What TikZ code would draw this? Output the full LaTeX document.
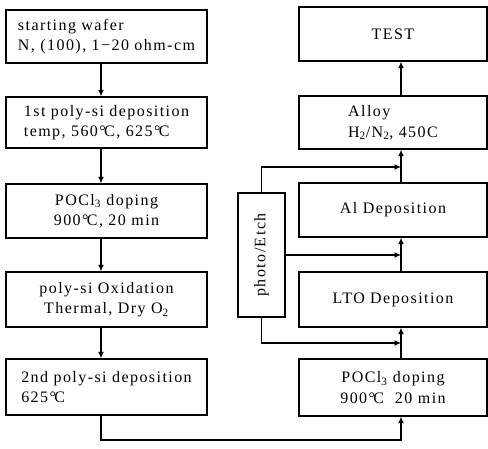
\documentclass[tikz,border=0pt]{standalone}
\usepackage{fontspec}
\setmainfont{Liberation Serif}[LetterSpace=9]
\usetikzlibrary{arrows.meta}
\newcommand{\dC}{\textdegree\kern-0.1em C}
\tikzset{
  txt/.style={font=\fontsize{16}{20.5}\selectfont},
  box/.style={draw, line width=1.3pt, inner sep=0pt, txt},
  lbox/.style={box, minimum width=201pt},
  rbox/.style={box, minimum width=188pt},
  conn/.style={line width=1.3pt},
  arr/.style={conn, -{Latex[length=6.5pt,width=6pt]}},
}
\begin{document}
\begin{tikzpicture}[x=1pt,y=-1pt]
\useasboundingbox (0,0) rectangle (488,448);
% left column
\node[lbox, minimum height=53pt, align=left] (b1) at (106.5,36.5) {starting wafer\\N, (100), 1−20 ohm-cm};
\node[lbox, minimum height=51pt, align=left] (b2) at (106.5,122.5) {1st poly-si deposition\\temp, 560\dC, 625\dC};
\node[lbox, minimum height=54pt, align=center] (b3) at (106.5,211) {POCl\textsubscript{3} doping\\900\dC, 20 min};
\node[lbox, minimum height=55pt, align=center] (b4) at (106.5,299.5) {poly-si Oxidation\\Thermal, Dry O\textsubscript{2}};
\node[lbox, minimum height=56pt, align=left] (b5) at (106.5,387) {2nd poly-si deposition\\625\dC};
% right column
\node[rbox, minimum height=54pt] (r1) at (393,34) {TEST};
\node[rbox, minimum height=53pt, align=left] (r2) at (393,122.5) {Alloy\\H\textsubscript{2}/N\textsubscript{2}, 450C};
\node[rbox, minimum height=54pt] (r3) at (393,210) {Al Deposition};
\node[rbox, minimum height=55pt] (r4) at (393,299.5) {LTO Deposition};
\node[rbox, minimum height=57pt, align=center] (r5) at (393,387.5) {POCl\textsubscript{3} doping\\900\dC\ \ 20 min};
% photo/Etch
\node[box, minimum width=47pt, minimum height=124pt,
  label={[rotate=90, txt]center:photo/Etch}] (pe) at (261.5,255) {};
% guide coordinates
\coordinate (xl) at (101,0);
\coordinate (xr) at (401,0);
\coordinate (j1) at (401,167);
\coordinate (j2) at (401,255);
\coordinate (j3) at (401,343);
\coordinate (bt) at (101,440);
% left arrows
\draw[arr] (b1.south -| xl) -- (b2.north -| xl);
\draw[arr] (b2.south -| xl) -- (b3.north -| xl);
\draw[arr] (b3.south -| xl) -- (b4.north -| xl);
\draw[arr] (b4.south -| xl) -- (b5.north -| xl);
% bottom link
\draw[arr] (b5.south -| xl) -- (bt) -| (r5.south -| xr);
% right arrows
\draw[arr] (r5.north -| xr) -- (r4.south -| xr);
\draw[arr] (r4.north -| xr) -- (r3.south -| xr);
\draw[arr] (r3.north -| xr) -- (r2.south -| xr);
\draw[arr] (r2.north -| xr) -- (r1.south -| xr);
% photo/Etch links
\draw[arr] (pe.north) |- (j1);
\draw[arr] (pe.east) -- (j2);
\draw[arr] (pe.south) |- (j3);
\end{tikzpicture}
\end{document}
